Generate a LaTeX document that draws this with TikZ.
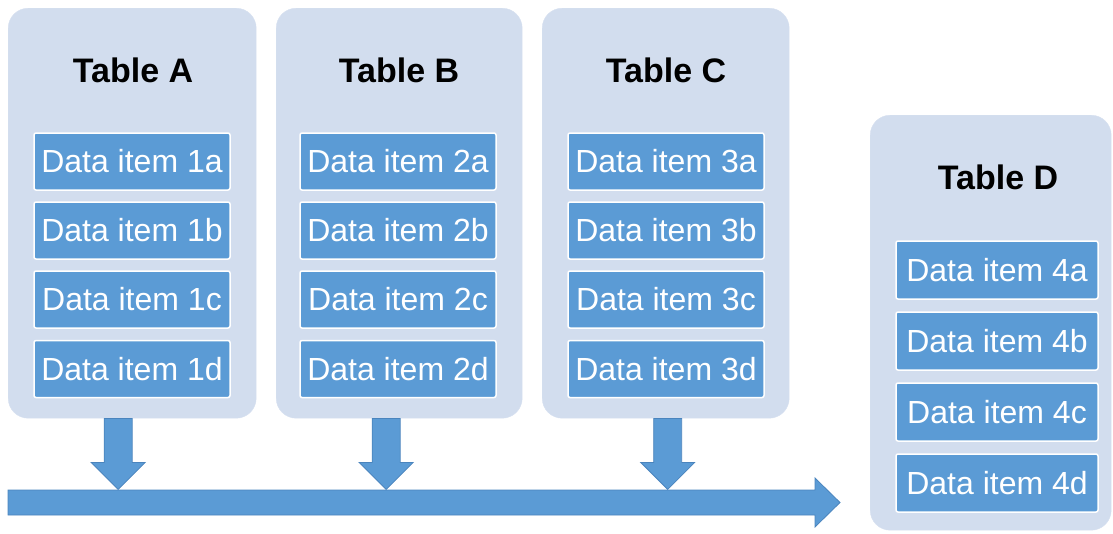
\documentclass[tikz,border=0pt]{standalone}
\usepackage{fontspec}
\setmainfont{Liberation Sans}
\usetikzlibrary{calc}
\definecolor{panelfill}{HTML}{D2DDEE}
\definecolor{itemfill}{HTML}{5B9BD5}
\definecolor{arrowline}{HTML}{4A84BD}
\tikzset{
  panel/.style={draw=panelfill!90!white, fill=panelfill, rounded corners=20pt, anchor=north west, inner sep=0pt},
  title/.style={font=\fontsize{34}{40}\selectfont\bfseries, text=black},
  item/.style={draw=white, line width=1.5pt, fill=itemfill, text=white, rounded corners=2pt, minimum width=196pt, minimum height=57pt, inner sep=0pt, font=\fontsize{32}{38}\selectfont},
  ditem/.style={item, minimum width=202pt, minimum height=58pt},
  flow/.style={fill=itemfill, draw=arrowline, line width=0.8pt, line join=miter}
}
\begin{document}
\begin{tikzpicture}[x=1pt,y=-1pt]
\useasboundingbox (0,0) rectangle (1113,533);
% panels
\node[panel, minimum width=248pt, minimum height=410pt] (A) at (8,8) {};
\node[panel, minimum width=246pt, minimum height=410pt] (B) at (276,8) {};
\node[panel, minimum width=247pt, minimum height=410pt] (C) at (542,8) {};
\node[panel, minimum width=241pt, minimum height=415pt] (D) at (870,115) {};
% titles
\node[title] (tA) at (133,70) {Table A};
\node[title] (tB) at (399,70) {Table B};
\node[title] (tC) at (666,70) {Table C};
\node[title] (tD) at (998,177) {Table D};
% items
\foreach \n/\x in {1/132,2/398,3/666}{
  \node[item] (i\n a) at (\x,161.5) {Data item \n a};
  \node[item] (i\n b) at (\x,230.5) {Data item \n b};
  \node[item] (i\n c) at (\x,299.5) {Data item \n c};
  \node[item] (i\n d) at (\x,369) {Data item \n d};
}
\node[ditem] (i4a) at (997,270) {Data item 4a};
\node[ditem] (i4b) at (997,341) {Data item 4b};
\node[ditem] (i4c) at (997,412) {Data item 4c};
\node[ditem] (i4d) at (997,483) {Data item 4d};
% bus arrow
\coordinate (busstart) at (8,502.5);
\coordinate (bustip) at (840,502.5);
\draw[flow] ($(busstart)+(0,-12.5)$) -- ($(bustip)+(-25,-12.5)$) -- ($(bustip)+(-25,-24.5)$) -- (bustip)
  -- ($(bustip)+(-25,24.5)$) -- ($(bustip)+(-25,12.5)$) -- ($(busstart)+(0,12.5)$) -- cycle;
% down arrows
\foreach \p/\dx in {A/-14,B/-13,C/2}{
  \path (\p.south) ++(\dx,0) coordinate (top\p);
  \draw[flow] ($(top\p)+(-14,0)$) -- ($(top\p)+(-14,44)$) -- ($(top\p)+(-27,44)$) -- ($(top\p)+(0,71)$)
    -- ($(top\p)+(27,44)$) -- ($(top\p)+(14,44)$) -- ($(top\p)+(14,0)$) -- cycle;
}
\end{tikzpicture}
\end{document}
